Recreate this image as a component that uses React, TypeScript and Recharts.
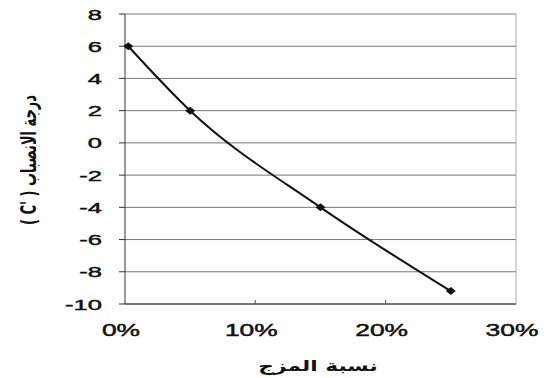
import React from "react";
import { LineChart, Line, XAxis, YAxis, CartesianGrid, ReferenceLine } from "recharts";

// blend ratio (%) vs. pour point (°C)
const blendRatio = [0.25, 5, 15, 25];
const pourPoint = [6, 2, -4, -9.2];
const xTicks = [0, 10, 20, 30];
const yTicks = [-10, -8, -6, -4, -2, 0, 2, 4, 6, 8];

const xTitle = "نسبة المزج";
const yTitle = "درجة الانصباب ( C'\u200E )";

const data = blendRatio.map((x, i) => ({ x, y: pourPoint[i] }));

const FONT = "'Liberation Sans', Arial, 'DejaVu Sans', sans-serif";
const STRETCH = 1.65;

function XTick(props: any) {
  const { x, y, payload } = props;
  const inner = payload.value > 0 && payload.value < 30;
  return (
    <g>
      {inner && <line x1={x} y1={y} x2={x} y2={y - 4} stroke="#555" strokeWidth={1} />}
      <g transform={`translate(${x - 4},${y + 32}) scale(${STRETCH},1)`}>
        <text x={0} y={0} textAnchor="middle" fontFamily={FONT} fontSize={16} fill="#111" stroke="#111" strokeWidth={0.45}>
          {`${payload.value}%`}
        </text>
      </g>
    </g>
  );
}

function YTick(props: any) {
  const { x, y, payload } = props;
  return (
    <g transform={`translate(${x},${y}) scale(${STRETCH},1)`}>
      <text x={0} y={0} dy="0.36em" textAnchor="end" fontFamily={FONT} fontSize={15.5} fill="#111" stroke="#111" strokeWidth={0.45}>
        {payload.value}
      </text>
    </g>
  );
}

function Diamond(props: any) {
  const { cx, cy } = props;
  if (cx == null || cy == null) return null;
  return (
    <polygon
      points={`${cx - 5},${cy} ${cx},${cy - 4} ${cx + 5},${cy} ${cx},${cy + 4}`}
      fill="#111"
    />
  );
}

export default function App() {
  return (
    <div style={{ position: "absolute", left: 0, top: 0, width: 544, height: 378, background: "#fff" }}>
      <LineChart width={544} height={378} data={data} margin={{ top: 14, right: 28, bottom: 14, left: 0 }}>
        <CartesianGrid vertical={false} stroke="#777" strokeWidth={1} />
        <ReferenceLine x={30} stroke="#aaa" strokeWidth={1} />
        <XAxis
          dataKey="x"
          type="number"
          domain={[0, 30]}
          ticks={xTicks}
          height={60}
          stroke="#333"
          tickSize={0}
          tickMargin={0}
          tick={<XTick />}
        />
        <YAxis
          type="number"
          domain={[-10, 8]}
          ticks={yTicks}
          width={125}
          stroke="#333"
          tickSize={6}
          tickMargin={17}
          tick={<YTick />}
          interval={0}
        />
        <Line
          type="monotone"
          dataKey="y"
          stroke="#111"
          strokeWidth={2}
          dot={<Diamond />}
          activeDot={false}
          isAnimationActive={false}
        />
      </LineChart>
      <svg width={544} height={378} style={{ position: "absolute", left: 0, top: 0, pointerEvents: "none" }}>
        <g transform={`translate(318,371) scale(1.45,1)`}>
          <text x={0} y={0} textAnchor="middle" fontFamily="'DejaVu Sans', sans-serif" fontWeight="bold" fontSize={15} fill="#111" direction="rtl">
            {xTitle}
          </text>
        </g>
        <g transform={`translate(36,160) scale(${STRETCH},1) rotate(-90)`}>
          <text x={0} y={0} textAnchor="middle" fontFamily="'DejaVu Sans', sans-serif" fontWeight="bold" fontSize={13} fill="#111" direction="rtl">
            {yTitle}
          </text>
        </g>
      </svg>
    </div>
  );
}
